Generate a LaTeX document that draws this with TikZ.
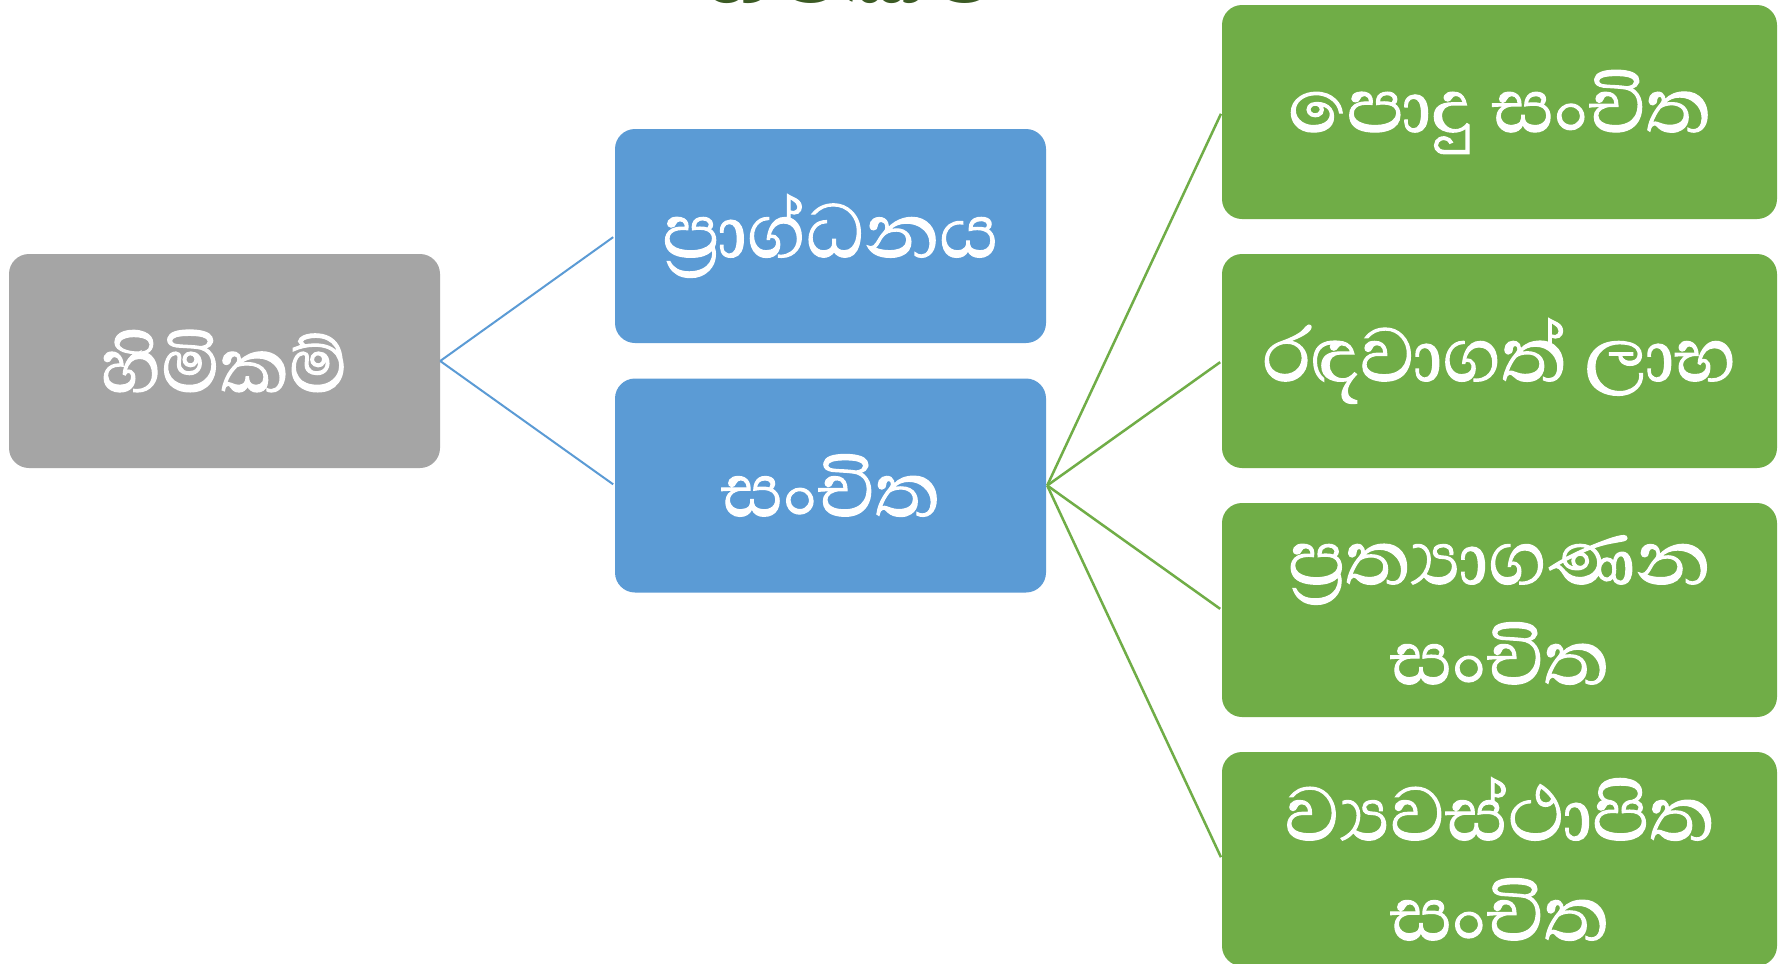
\documentclass[tikz,border=0pt]{standalone}
\usepackage{fontspec}
\newfontfamily\sinhalafont[Script=Sinhala]{Abhaya Libre}
\newfontfamily\sinhalaheavy[Script=Sinhala,FakeBold=1.2]{Abhaya Libre}
\definecolor{graybox}{HTML}{A5A5A5}
\definecolor{bluebox}{HTML}{5B9BD5}
\definecolor{greenbox}{HTML}{70AD47}
\definecolor{titlegreen}{HTML}{3B5A24}
\begin{document}
\begin{tikzpicture}[x=1pt,y=-1pt,
  boxst/.style={rectangle, rounded corners=20pt, minimum height=214pt, inner sep=0pt,
    text=white, align=center, font=\sinhalaheavy\fontsize{97}{100}\selectfont},
  graynode/.style={boxst, fill=graybox, minimum width=431pt},
  bluenode/.style={boxst, fill=bluebox, minimum width=431pt},
  greennode/.style={boxst, fill=greenbox, minimum width=555pt},
  blueline/.style={draw=bluebox, line width=2pt, shorten >=2pt},
  greenline/.style={draw=greenbox, line width=2.5pt, shorten >=2pt}
]
\useasboundingbox (0,0) rectangle (1789,964);
\fill[white] (0,0) rectangle (1789,964);
\node[anchor=base, text=titlegreen, font=\sinhalafont\bfseries\fontsize{117}{120}\selectfont] (title) at (853,3) {හිමිකම්};
\node[graynode] (equity) at (224.5,361) {හිමිකම්};
\node[bluenode] (capital) at (830.5,236) {ප්^^^^200dරාග්ධනය};
\node[bluenode] (reserves) at (830.5,485.5) {සංචිත};
\node[greennode] (g1) at (1499.5,112) {පොදු සංචිත};
\node[greennode] (g2) at (1499.5,361) {රඳවාගත් ලාභ};
\node[greennode] (g3) at (1499.5,610) {ප්^^^^200dරත්^^^^200dයාගණන\\සංචිත};
\node[greennode] (g4) at (1499.5,859) {ව්^^^^200dයවස්ථාපිත\\සංචිත};
\draw[blueline] (equity.east) -- (capital.west);
\draw[blueline] (equity.east) -- (reserves.west);
\foreach \g in {g1,g2,g3,g4}
  \draw[greenline] ([xshift=1pt]reserves.east) -- (\g.west);
\end{tikzpicture}
\end{document}
